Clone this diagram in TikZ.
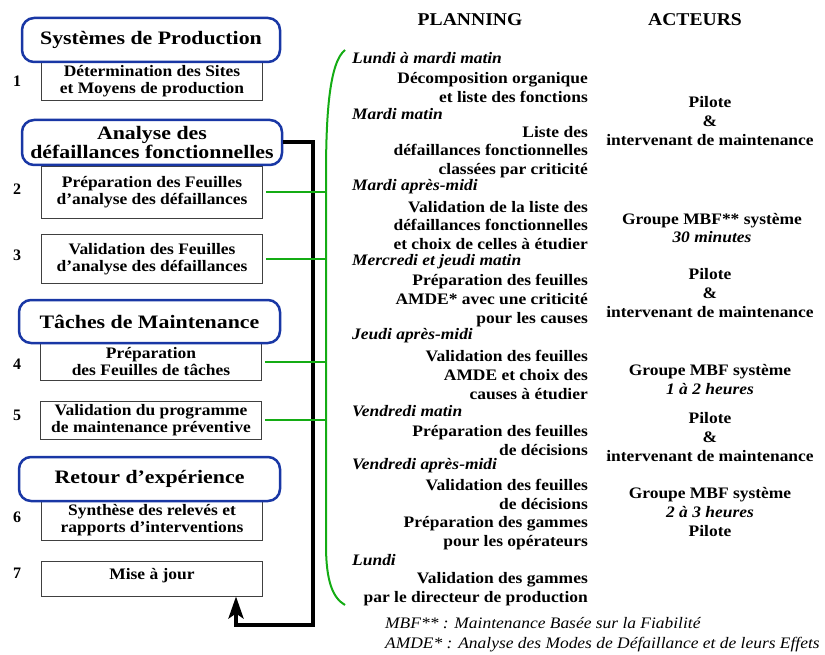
\documentclass[tikz,border=0pt]{standalone}
\usepackage{fontspec}
\setmainfont{Liberation Serif}
\newfontfamily\wideserif[FakeStretch=1.09]{Liberation Serif}
\newfontfamily\headserif[FakeStretch=1.15]{Liberation Serif}
\usepackage{xcolor}
\usetikzlibrary{arrows.meta,positioning,calc}

\definecolor{phaseblue}{RGB}{25,55,165}
\definecolor{bracegreen}{RGB}{20,172,20}

\begin{document}
\begin{tikzpicture}[x=1pt, y=-1pt,
  head/.style={font=\wideserif\fontsize{18}{20}\selectfont\bfseries},
  phase/.style={draw=phaseblue, line width=2.5pt, rounded corners=12pt, fill=white, align=center, inner sep=0pt, font=\headserif\fontsize{19}{19.5}\selectfont\bfseries},
  stepbox/.style={draw=black!75, line width=0.9pt, fill=white, minimum width=221pt, align=center, inner sep=0pt, font=\wideserif\fontsize{16}{17}\selectfont\bfseries},
  num/.style={font=\fontsize{16}{18}\selectfont\bfseries},
  day/.style={anchor=west, inner sep=0pt, font=\wideserif\fontsize{16}{18}\selectfont\bfseries\itshape},
  task/.style={anchor=east, align=right, inner sep=0pt, font=\wideserif\fontsize{16}{18.6}\selectfont\bfseries},
  actor/.style={align=center, inner sep=0pt, font=\wideserif\fontsize{16}{18.6}\selectfont\bfseries},
  note/.style={anchor=west, inner sep=0pt, font=\wideserif\fontsize{16}{17}\selectfont\itshape},
  link/.style={bracegreen, line width=2pt},
  back/.style={line width=4pt, -{Stealth[length=22pt,width=15pt,inset=5pt]}},
]
\useasboundingbox (0,0) rectangle (825,655);

% Column titles
\node[head] (plan) at (470,20) {PLANNING};
\node[head] (act) at (695,20) {ACTEURS};

% Left column: steps
\node[stepbox, minimum height=38pt] (s1) at (152,81) {Détermination des Sites\\et Moyens de production};
\node[stepbox, minimum height=52pt] (s2) at (152,192) {Préparation des Feuilles\\d’analyse des défaillances};
\node[stepbox, minimum height=49pt] (s3) at (152,259) {Validation des Feuilles\\d’analyse des défaillances};
\node[stepbox, minimum height=37pt] (s4) at (151,361.5) {Préparation\\des Feuilles de tâches};
\node[stepbox, minimum height=38pt] (s5) at (151,420) {Validation du programme\\de maintenance préventive};
\node[stepbox, minimum height=39pt] (s6) at (152,520.5) {Synthèse des relevés et\\rapports d’interventions};
\node[stepbox, minimum height=35pt, text depth=9pt] (s7) at (152,578.5) {Mise à jour};

% Left column: phases (drawn over the steps)
\node[phase, minimum width=258pt, minimum height=44pt] (sys) at (151,40) {Systèmes de Production};
\node[phase, minimum width=260pt, minimum height=45pt] (ana) at (152,142.5) {Analyse des\\défaillances fonctionnelles};
\node[phase, minimum width=261pt, minimum height=43pt] (tac) at (149.5,321.5) {Tâches de Maintenance};
\node[phase, minimum width=261pt, minimum height=44pt] (ret) at (149.5,479) {Retour d’expérience};

% Step numbers
\node[num] (n1) at (17,81) {1};
\node[num] (n2) at (17,189) {2};
\node[num] (n3) at (17,255) {3};
\node[num] (n4) at (17,364) {4};
\node[num] (n5) at (17,415) {5};
\node[num] (n6) at (17,517) {6};
\node[num] (n7) at (17,573) {7};

% Feedback loop back to the update step
\coordinate (turn) at (313,625);
\draw[back] (ana.east) -- (ana.east -| turn) -- (turn) -| ([xshift=84pt]s7.south);

% Green brace and its links
\coordinate (gtop) at (345,50);
\coordinate (gbot) at (345,605);
\coordinate (gv) at (326,0);
\draw[link] (gtop) .. controls (330,62) and (326,110) .. (326,175) -- (326,545) .. controls (326,582) and (333,598) .. (gbot);
\draw[link] ([xshift=3pt]s2.east) -- (s2.east -| gv);
\draw[link] ([xshift=3pt]s3.east) -- (s3.east -| gv);
\draw[link] ([xshift=3pt]s4.east) -- (s4.east -| gv);
\draw[link] ([xshift=3pt]s5.east) -- (s5.east -| gv);

% Planning: days
\node[day] (d1) at (352,58) {Lundi à mardi matin};
\node[day] (d2) at (352,114) {Mardi matin};
\node[day] (d3) at (352,187) {Mardi après-midi};
\node[day] (d4) at (352,262) {Mercredi et jeudi matin};
\node[day] (d5) at (352,336) {Jeudi après-midi};
\node[day] (d6) at (352,411) {Vendredi matin};
\node[day] (d7) at (352,466) {Vendredi après-midi};
\node[day] (d8) at (352,560) {Lundi};

% Planning: tasks
\node[task] (t1) at (588,87.5) {Décomposition organique\\et liste des fonctions};
\node[task] (t2) at (588,152) {Liste des\\défaillances fonctionnelles\\classées par criticité};
\node[task] (t3) at (588,225.5) {Validation de la liste des\\défaillances fonctionnelles\\et choix de celles à étudier};
\node[task] (t4) at (588,300.5) {Préparation des feuilles\\AMDE* avec une criticité\\pour les causes};
\node[task] (t5) at (588,375) {Validation des feuilles\\AMDE et choix des\\causes à étudier};
\node[task] (t6) at (588,440.5) {Préparation des feuilles\\de décisions};
\node[task] (t7) at (588,514.5) {Validation des feuilles\\de décisions\\Préparation des gammes\\pour les opérateurs};
\node[task] (t8) at (588,589) {Validation des gammes\\par le directeur de production};

% Actors
\node[actor] (a1) at (710,121) {Pilote\\\&\\intervenant de maintenance};
\node[actor] (a2) at (712,228) {Groupe MBF** système\\\textit{30 minutes}};
\node[actor] (a3) at (710,293) {Pilote\\\&\\intervenant de maintenance};
\node[actor] (a4) at (710,379.5) {Groupe MBF système\\\textit{1 à 2 heures}};
\node[actor] (a5) at (710,437) {Pilote\\\&\\intervenant de maintenance};
\node[actor] (a6) at (710,512) {Groupe MBF système\\\textit{2 à 3 heures}\\Pilote};

% Footnotes
\node[note] (f1) at (385,623) {MBF** : Maintenance Basée sur la Fiabilité};
\node[note] (f2) at (385,645) {AMDE* : Analyse des Modes de Défaillance et de leurs Effets};

\end{tikzpicture}
\end{document}
